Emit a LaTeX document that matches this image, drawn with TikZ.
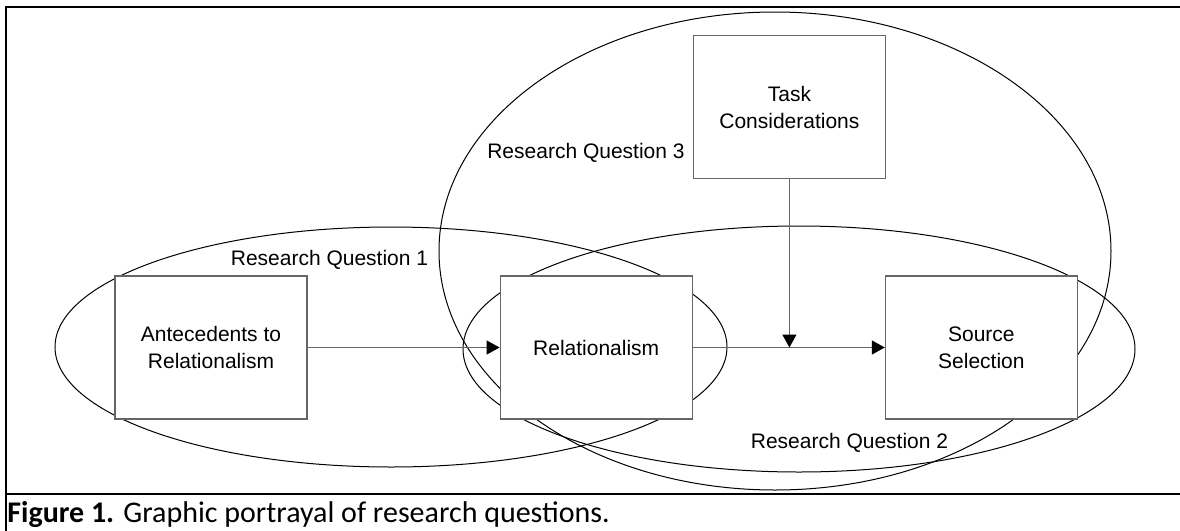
\documentclass[tikz,border=0pt]{standalone}
\usepackage{fontspec}
\setmainfont{Liberation Sans}
\newfontfamily\capfont{Carlito}
\usepackage{xcolor}
\usetikzlibrary{arrows.meta,positioning}

\begin{document}
\begin{tikzpicture}[
  x=0.5pt, y=-0.5pt,
  node distance=48pt and 96pt,
  block/.style={draw=black!60, line width=0.6pt, fill=white, minimum width=96pt, minimum height=71.5pt, inner sep=0pt, align=center, font=\fontsize{10.5pt}{13.5pt}\selectfont},
  flow/.style={draw=black!60, line width=0.6pt, -{Triangle[length=6.5pt, width=7pt, color=black]}},
  rq/.style={draw=black, line width=0.5pt},
  note/.style={font=\fontsize{10.5pt}{13.5pt}\selectfont, inner sep=0pt},
  frame/.style={line width=1pt}
]
  \useasboundingbox (0,0) rectangle (1180,531);

  % question regions
  \draw[rq] (775,251) ellipse [x radius=168pt, y radius=119.5pt];
  \draw[rq] (391,347) ellipse [x radius=168pt, y radius=60pt];
  \draw[rq] (799,349) ellipse [x radius=168pt, y radius=61.5pt];

  \node[block] (ante) at (211,347.5) {Antecedents to\\Relationalism};
  \node[block, right=of ante] (rel) {Relationalism};
  \node[block, right=of rel] (src) {Source\\Selection};
  \node[block, above right=48pt and 0pt of rel.north east] (task) {Task\\Considerations};
  \coordinate (join) at (task.south |- rel.east);

  \draw[flow] (ante) -- (rel);
  \draw[flow] (rel) -- (src);
  \draw[flow] (task) -- (join);

  \node[note] (rqone) at (329.5,260) {Research Question 1};
  \node[note, anchor=east] (rqthree) at (685,153) {Research Question 3};
  \node[note] (rqtwo) at (849.5,443) {Research Question 2};

  % figure frame and caption
  \draw[frame] (6,531) -- (6,7) -- (1180,7);
  \draw[frame] (6,494) -- (1180,494);
  \node[anchor=base west, inner sep=0pt, font=\capfont\fontsize{15pt}{18pt}\selectfont] (caption) at (7,522) {\textbf{Figure 1.} Graphic portrayal of research questions.};
\end{tikzpicture}
\end{document}
